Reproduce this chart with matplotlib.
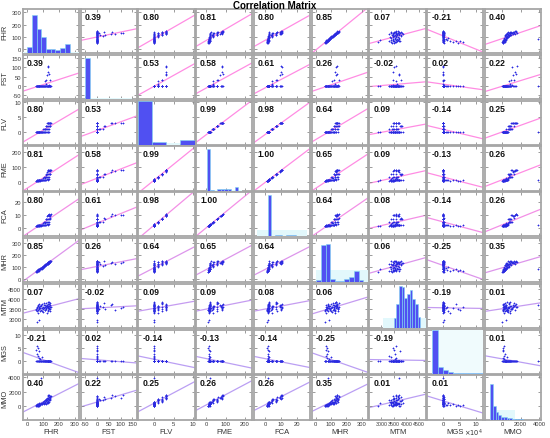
import numpy as np
import matplotlib
matplotlib.use("Agg")
import matplotlib.pyplot as plt

plt.rcParams['font.family'] = ['Liberation Sans', 'DejaVu Sans']

names = ["FHR", "FST", "FLV", "FME", "FCA", "MHR", "MTM", "MGS", "MMO"]

FHR = [52, 55, 58, 60, 62, 63, 65, 66, 68, 70, 71, 72, 74, 75, 76, 78, 80, 82, 84, 86,
       88, 90, 92, 95, 98, 100, 102, 104, 106, 108, 110, 112, 114, 115, 117, 118, 120, 121, 122, 124,
       125, 126, 128, 129, 130, 131, 132, 133, 134, 135, 136, 137, 138, 140, 141, 142, 144, 145, 147, 150]
FST = [0, 0, 0, 0, 0, 0, 0, 0, 0, 0, 0, 0, 0, 0, 0, 0, 0, 0, 0, 0,
       0, 0, 0, 0, 0, 0, 0, 0, 0, 0, 0, 25, 0, 0, 12, 0, 0, 35, 0, 0,
       60, 0, 0, 75, 0, 100, 0, 0, 110, 0, 8, 0, 0, 65, 0, 0, 30, 0, 0, 0]
FLV = [0, 0, 0, 0, 0, 0, 0, 0, 0, 0, 0, 0, 0, 0, 0, 0, 0, 0, 0, 0,
       0, 0, 0, 0, 0, 1, 0, 0, 1, 0, 0, 1, 0, 1, 1, 0, 2, 2, 0, 1,
       3, 2, 0, 3, 1, 3, 2, 0, 3, 2, 1, 3, 0, 3, 2, 3, 2, 3, 3, 3]
FME = [10, 12, 9, 14, 11, 13, 15, 10, 16, 12, 14, 18, 11, 13, 15, 17, 12, 14, 16, 13,
       15, 18, 14, 16, 19, 32, 15, 17, 34, 18, 16, 33, 19, 31, 36, 17, 52, 55, 20, 35,
       72, 54, 18, 78, 37, 82, 56, 20, 80, 53, 36, 74, 21, 84, 57, 76, 58, 79, 81, 85]
FCA = [1.2, 1.5, 1.1, 1.8, 1.4, 1.6, 1.9, 1.3, 2.0, 1.5, 1.7, 2.2, 1.4, 1.6, 1.9, 2.1, 1.5, 1.8, 2.0, 1.6,
       1.9, 2.3, 1.7, 2.0, 2.4, 4.0, 1.9, 2.1, 4.2, 2.2, 2.0, 4.1, 2.4, 3.9, 4.5, 2.1, 6.5, 6.9, 2.5, 4.4,
       9.0, 6.7, 2.2, 9.7, 4.6, 10.2, 7.0, 2.5, 10.0, 6.6, 4.5, 9.2, 2.6, 10.5, 7.1, 9.5, 7.2, 9.9, 10.1, 10.6]
MHR = [62, 66, 60, 70, 64, 75, 68, 72, 80, 66, 78, 82, 70, 85, 76, 88, 84, 90, 80, 95,
       92, 98, 86, 102, 96, 108, 104, 112, 100, 115, 118, 110, 122, 116, 125, 120, 128, 118, 130, 126,
       134, 122, 136, 128, 138, 132, 140, 126, 142, 136, 144, 130, 146, 138, 148, 140, 150, 146, 142, 152]
MTM = [3420, 3510, 2850, 3600, 3380, 3550, 3700, 3450, 3620, 3300, 3520, 3750, 3480, 2950, 3580, 3650, 3400, 3560, 3700, 3460,
       3620, 3380, 3540, 3720, 3480, 3600, 3350, 3680, 3520, 3800, 3450, 3580, 3700, 3420, 3640, 3560, 3780, 3480, 3620, 3300,
       3700, 3580, 3860, 3450, 3650, 3520, 3740, 3380, 3600, 3820, 3480, 3660, 3550, 3720, 3400, 3600, 3780, 3500, 3680, 3580]
MGS = [2000, 45000, 0, 60000, 1000, 30000, 500, 52000, 0, 20000, 3000, 38000, 0, 1500, 12000, 500, 0, 8000, 1000, 0,
       2000, 15000, 500, 0, 1000, 0, 3000, 0, 500, 0, 1000, 0, 2000, 0, 500, 0, 1000, 0, 3000, 0,
       500, 0, 1000, 0, 2000, 0, 500, 0, 1000, 0, 2000, 0, 500, 0, 1000, 0, 3000, 0, 500, 0]
MMO = [80, 150, 40, 200, 120, 300, 90, 60, 250, 180, 350, 100, 220, 400, 150, 280, 320, 200, 3900, 450,
       300, 500, 380, 260, 550, 420, 600, 480, 700, 350, 520, 800, 400, 650, 900, 300, 750, 1000, 420, 850,
       1200, 600, 500, 1400, 950, 1100, 700, 550, 1600, 880, 1050, 1300, 650, 1500, 900, 1150, 1250, 1000, 1350, 1450]

# correlation coefficients as printed in the chart
CORR = [
    [1.00, 0.39, 0.80, 0.81, 0.80, 0.85, 0.07, -0.21, 0.40],
    [0.39, 1.00, 0.53, 0.58, 0.61, 0.26, -0.02, 0.02, 0.22],
    [0.80, 0.53, 1.00, 0.99, 0.98, 0.64, 0.09, -0.14, 0.25],
    [0.81, 0.58, 0.99, 1.00, 1.00, 0.65, 0.09, -0.13, 0.26],
    [0.80, 0.61, 0.98, 1.00, 1.00, 0.64, 0.08, -0.14, 0.26],
    [0.85, 0.26, 0.64, 0.65, 0.64, 1.00, 0.06, -0.25, 0.35],
    [0.07, -0.02, 0.09, 0.09, 0.08, 0.06, 1.00, -0.19, 0.01],
    [-0.21, 0.02, -0.14, -0.13, -0.14, -0.25, -0.19, 1.00, 0.01],
    [0.40, 0.22, 0.25, 0.26, 0.26, 0.35, 0.01, 0.01, 1.00],
]

# diagonal histogram bar heights (percent of panel height) and pale background bars
HIST_FHR = [0, 13, 87, 54, 37, 10, 10, 7, 12, 21, 0, 0]
HIST_FST = [0, 93, 1, 0.5, 0.5, 0.5, 0.5, 0.5, 0.5, 1, 0.5, 0]
HIST_FLV = [100, 6, 0, 10]
HIST_FME = [0, 0, 0, 95, 1, 0, 4, 4, 4, 4, 0, 8, 0, 0, 0, 0]
HIST_FCA = [0, 0, 0, 2, 93, 0, 3, 3, 0, 3, 3, 3, 0, 0, 0, 0]
HIST_MHR = [0, 6, 85, 87, 8, 2, 2, 8, 12, 25, 6, 0]
HIST_MTM = [0, 0, 0, 0, 0, 1, 0, 1, 0, 22, 55, 95, 92, 68, 77, 85, 65, 55, 25, 0, 0]
HIST_MGS = [0, 100, 15, 8, 4, 2, 1.5, 1, 1, 1.5, 1]
HIST_MMO = [0, 0, 81, 30, 18, 11, 7, 6, 4, 3, 2, 1, 1, 0.5, 0, 0, 0, 0, 0, 0, 0]

BG_FHR = [2] * 12
BG_FST = [0, 0, 2, 2, 2, 2, 2, 2, 2, 2, 2, 0]
BG_FLV = [0, 0, 4, 0]
BG_FME = [0, 0, 0, 0, 2, 2, 2, 2, 2, 2, 2, 2, 2, 0, 0, 0]
BG_FCA = [0] + [15] * 14 + [0]
BG_MHR = [0] + [27] * 11
BG_MTM = [0] * 5 + [22] * 16
BG_MGS = [0] + [100] * 10
BG_MMO = [0, 0] + [22] * 9 + [0] * 10

data = [FHR, FST, FLV, FME, FCA, MHR, MTM, MGS, MMO]
hists = [HIST_FHR, HIST_FST, HIST_FLV, HIST_FME, HIST_FCA, HIST_MHR, HIST_MTM, HIST_MGS, HIST_MMO]
bgs = [BG_FHR, BG_FST, BG_FLV, BG_FME, BG_FCA, BG_MHR, BG_MTM, BG_MGS, BG_MMO]
bg_colors = ['#e2f8fc'] * 7 + ['#f0fbfd', '#e2f8fc']

TICKS = [[0, 100, 200, 300], [-50, 0, 50, 100, 150], [0, 5, 10], [0, 100, 200], [0, 10, 20],
         [0, 100, 200, 300], [3000, 3500, 4000, 4500], [0, 50000, 100000], [0, 2000, 4000]]
TICKLABELS = [["0", "100", "200", "300"], ["-50", "0", "50", "100", "150"], ["0", "5", "10"],
              ["0", "100", "200"], ["0", "10", "20"], ["0", "100", "200", "300"],
              ["3000", "3500", "4000", "4500"], ["0", "5", "10"], ["0", "2000", "4000"]]
LIMS = [(-30, 328), (-70, 168), (-4, 10.3), (-54, 238), (-7, 28), (-25, 340),
        (2520, 4770), (-48000, 122000), (-1800, 4200)]

W, H = 550, 439
fig = plt.figure(figsize=(W / 100, H / 100), dpi=100)

left0, top0 = 22.7, 10.0
px, py = 57.8, 45.8
cw, ch = 56.2, 44.2

pink = np.array([1.0, 0.5, 0.88])
purple = np.array([0.70, 0.58, 0.95])

for r in range(9):
    for c in range(9):
        x0 = left0 + c * px
        y0 = top0 + r * py
        rect = [x0 / W, 1 - (y0 + ch) / H, cw / W, ch / H]
        ax = fig.add_axes(rect)
        ax.set_xlim(LIMS[c])
        ax.set_ylim(LIMS[r])
        ax.set_xticks(TICKS[c])
        ax.set_yticks(TICKS[r])
        ax.set_xticklabels(TICKLABELS[c], fontsize=(3.8 if c == 6 else 4.2))
        ax.set_yticklabels(TICKLABELS[r], fontsize=4.2)
        ax.tick_params(direction='in', length=2, width=0.6, color='#8a8a8a',
                       top=True, right=True, labelcolor='#3a3a3a', pad=1.0,
                       labelleft=(c == 0), labelbottom=(r == 8))
        for s in ax.spines.values():
            s.set_color('#a6a6a6')
            s.set_linewidth(1.3)
        if r != c:
            xv = np.array(data[c], dtype=float)
            yv = np.array(data[r], dtype=float)
            ax.plot(xv, yv, linestyle='none', marker='+', ms=2.0, mew=0.55, color='#2a2ae0', zorder=2)
            k, b = np.polyfit(xv, yv, 1)
            xl = np.array(LIMS[c], dtype=float)
            t = np.clip((r - 3.5) / 3.0, 0, 1)
            col = pink * (1 - t) + purple * t
            ax.plot(xl, k * xl + b, color=col, lw=0.9, alpha=0.9, zorder=1)
            ax.text(0.07, 0.93, f"{CORR[r][c]:.2f}", transform=ax.transAxes,
                    fontsize=6.2, fontweight='bold', color='#111111', va='top', ha='left', zorder=3)
        else:
            hax = fig.add_axes(rect)
            hax.set_axis_off()
            hax.patch.set_alpha(0)
            n = len(hists[r])
            idx = np.arange(n)
            hax.bar(idx, bgs[r], width=1, align='edge', color=bg_colors[r], edgecolor='none')
            hax.bar(idx, hists[r], width=1, align='edge', color='#5050f2', edgecolor='#80d8f0', linewidth=0.4)
            hax.set_xlim(0, n)
            hax.set_ylim(0, 100)

for i, nm in enumerate(names):
    yc = top0 + i * py + ch / 2
    fig.text(4.5 / W, 1 - yc / H, nm, rotation=90, fontsize=5.3, color='#333333', ha='center', va='center')
    xc = left0 + i * px + cw / 2
    fig.text(xc / W, 1 - 433 / H, nm, fontsize=5.5, color='#333333', ha='center', va='center')

fig.text(473 / W, 1 - 433.5 / H, r'$\times10^4$', fontsize=4.8, color='#333333', ha='center', va='center')
fig.text(0.5, 1 - 6 / H, "Correlation Matrix", fontsize=7, fontweight='bold', ha='center', va='center')

fig.savefig("out.png", dpi=100)
